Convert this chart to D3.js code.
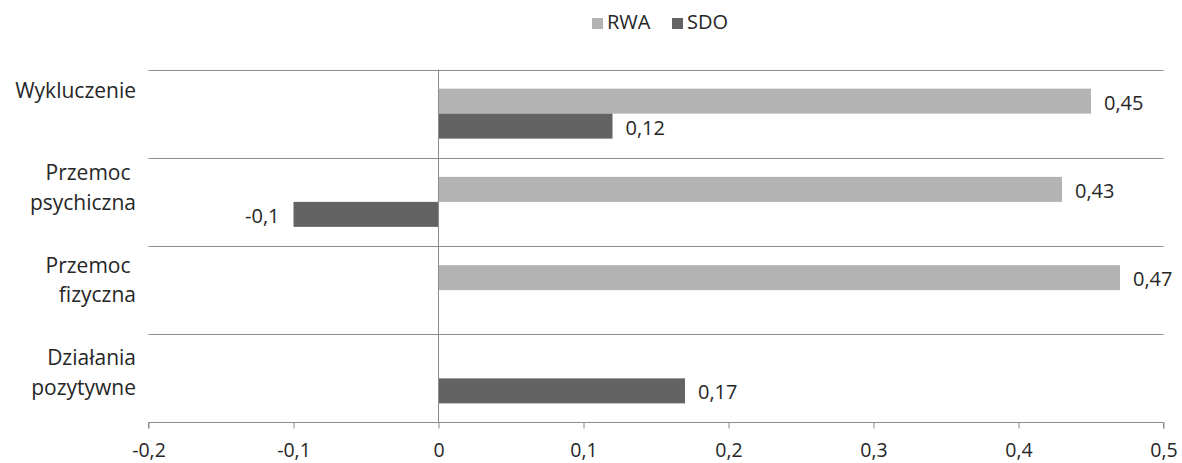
<!DOCTYPE html>
<html><head><meta charset="utf-8">
<script src="https://cdn.jsdelivr.net/npm/d3@7"></script>
<style>body{margin:0;background:#fff}svg{display:block}text{font-family:"Open Sans",sans-serif;fill:#262626}</style>
</head><body>
<script>
const categories = ["Wykluczenie", "Przemoc psychiczna", "Przemoc fizyczna", "Działania pozytywne"];
const categoryLines = [["Wykluczenie"], ["Przemoc\u00a0", "psychiczna"], ["Przemoc\u00a0", "fizyczna"], ["Działania", "pozytywne"]];
const seriesNames = ["RWA", "SDO"];
const rwaValues = [0.45, 0.43, 0.47, null];
const sdoValues = [0.12, -0.1, null, 0.17];
const tickValues = [-0.2, -0.1, 0, 0.1, 0.2, 0.3, 0.4, 0.5];
const colors = ["#b3b3b3", "#636363"];

const W = 1182, H = 463;
const svg = d3.select("body").append("svg").attr("width", W).attr("height", H);
const x = d3.scaleLinear().domain([-0.2, 0.5]).range([148.5, 1163.5]);
const y = d3.scaleBand().domain(categories).range([69.5, 422.5]).padding(0);
const inner = d3.scaleBand().domain(seriesNames).range([0, 50]);
const fmt = v => String(v).replace(".", ",");
const grid = "#8c8c8c";

// horizontal gridlines (band separators)
svg.append("g").selectAll("line").data(categories).join("line")
  .attr("x1", x(-0.2)).attr("x2", x(0.5))
  .attr("y1", d => Math.round(y(d)) + 0.5)
  .attr("y2", d => Math.round(y(d)) + 0.5)
  .attr("stroke", grid).attr("stroke-width", 1);

// bars
const series = [rwaValues, sdoValues];
series.forEach((vals, si) => {
  const data = categories.map((c, i) => ({c, v: vals[i]})).filter(d => d.v != null);
  const off = (y.bandwidth() - 50) / 2;
  svg.append("g").selectAll("rect").data(data).join("rect")
    .attr("x", d => x(Math.min(0, d.v)))
    .attr("width", d => Math.abs(x(d.v) - x(0)))
    .attr("y", d => y(d.c) + off + inner(seriesNames[si]))
    .attr("height", inner.bandwidth())
    .attr("fill", colors[si]);
  svg.append("g").selectAll("text").data(data).join("text")
    .attr("x", d => d.v >= 0 ? x(d.v) + 13 : x(d.v) - 14)
    .attr("y", d => y(d.c) + off + inner(seriesNames[si]) + inner.bandwidth() / 2 + 1.5)
    .attr("dy", "0.35em")
    .attr("text-anchor", d => d.v >= 0 ? "start" : "end")
    .style("font-size", "20px")
    .text(d => fmt(d.v));
});

// zero line
svg.append("line").attr("x1", x(0)).attr("x2", x(0)).attr("y1", y.range()[0]).attr("y2", y.range()[1])
  .attr("stroke", grid);

// x axis
const axis = d3.axisBottom(x).tickValues(tickValues).tickSize(6).tickFormat(fmt);
const ax = svg.append("g").attr("transform", `translate(0,${y.range()[1]})`).call(axis);
ax.select(".domain").attr("stroke", grid).attr("d", `M${x(-0.2)},6V0H${x(0.5)}V6`);
ax.selectAll(".tick line").attr("stroke", grid);
ax.selectAll(".tick text").attr("y", 34.5).attr("dy", 0).style("font-size", "19.5px").style("font-family", "Open Sans").attr("fill", "#262626");

// category labels (first baseline offset from band top, per label)
const labelBase = [28.5, 22.5, 26.5, 31];
const lineH = 29.5;
categories.forEach((c, i) => {
  const lines = categoryLines[i];
  const t = svg.append("text").attr("text-anchor", "end").attr("x", 136).style("font-size", "21px");
  lines.forEach((l, j) => {
    t.append("tspan").attr("x", 136)
      .attr("y", y(c) + labelBase[i] + j * lineH)
      .text(l);
  });
});

// legend
const lg = svg.append("g").attr("transform", "translate(592,18)");
const lgPos = [0, 80];
seriesNames.forEach((s, i) => {
  lg.append("rect").attr("x", lgPos[i]).attr("y", 0).attr("width", 11).attr("height", 11).attr("fill", colors[i]);
  lg.append("text").attr("x", lgPos[i] + 15).attr("y", 11).style("font-size", "20px").text(s);
});
</script>
</body></html>
